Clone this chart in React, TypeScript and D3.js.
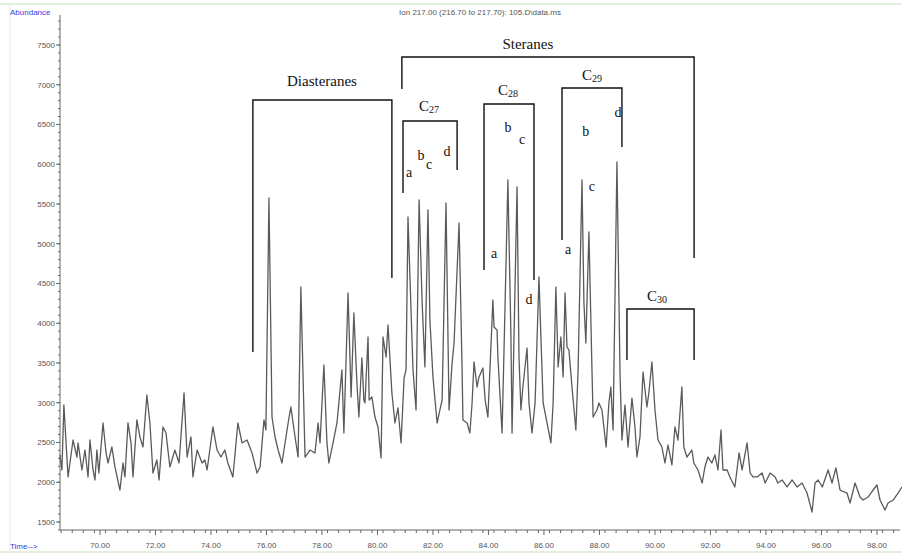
import React from "react";
import * as d3 from "d3";

const W = 902;
const H = 554;

const titleText = "Ion 217.00 (216.70 to 217.70): 105.D\\data.ms";
const yTickValues = [1500, 2000, 2500, 3000, 3500, 4000, 4500, 5000, 5500, 6000, 6500, 7000, 7500];
const xTickValues = [70, 72, 74, 76, 78, 80, 82, 84, 86, 88, 90, 92, 94, 96, 98];

// [retention time (min), abundance]
const traceEarly: [number, number][] = [
  [68.56, 2343], [68.63, 2154], [68.7, 2972], [68.85, 2066], [69.03, 2531], [69.17, 2317], [69.21, 2494],
  [69.35, 2154], [69.46, 2405], [69.57, 2066], [69.64, 2531], [69.75, 2154], [69.82, 2028], [69.89, 2405],
  [69.96, 2116], [70.11, 2745], [70.22, 2368], [70.29, 2242], [70.43, 2443], [70.54, 2192], [70.72, 1902],
  [70.83, 2242], [70.9, 2066], [71.01, 2745], [71.12, 2494], [71.19, 2066], [71.33, 2783], [71.44, 2569],
  [71.55, 2443], [71.69, 3097], [71.8, 2745], [71.91, 2116], [72.05, 2280], [72.13, 2028], [72.27, 2695],
  [72.38, 2619], [72.52, 2192], [72.7, 2405], [72.85, 2242], [73.03, 3122], [73.14, 2317], [73.28, 2569],
  [73.35, 2066], [73.5, 2405], [73.68, 2242], [73.78, 2280], [73.86, 2154], [74.07, 2695], [74.22, 2405],
  [74.36, 2317], [74.5, 2405], [74.61, 2242], [74.79, 2066], [74.97, 2745], [75.12, 2494], [75.3, 2531],
  [75.48, 2368], [75.66, 2116], [75.77, 2192], [75.91, 2783], [75.98, 2657], [76.09, 5575], [76.2, 2820],
  [76.31, 2569], [76.42, 2405], [76.56, 2242], [76.78, 2745], [76.88, 2946], [77.03, 2569], [77.14, 2317],
  [77.24, 4456], [77.39, 2317], [77.57, 2405], [77.75, 2368], [77.86, 2745], [77.93, 2494], [78.07, 3475],
  [78.18, 2494], [78.25, 2242],
];

const traceMid: [number, number][] = [
  [78.4, 2494], [78.54, 2745], [78.72, 3412], [78.79, 2619], [78.94, 4380], [79.05, 3072], [79.15, 4129],
  [79.26, 3248], [79.33, 2820], [79.44, 3563], [79.51, 3034], [79.55, 2997], [79.66, 3827], [79.7, 3034],
  [79.8, 3072], [79.91, 2820], [80.02, 2695], [80.13, 2305], [80.2, 3827], [80.31, 3575], [80.38, 3978],
  [80.52, 3122], [80.63, 2745], [80.74, 2934], [80.85, 2494], [80.96, 3311], [81.03, 3412], [81.1, 5337],
  [81.28, 3412], [81.39, 2909], [81.5, 5550], [81.61, 4255], [81.71, 3450], [81.82, 5424], [81.89, 4040],
  [82.0, 3324], [82.15, 2745], [82.25, 2909], [82.33, 3034], [82.47, 5512], [82.58, 2909], [82.69, 3500],
  [82.76, 3751], [82.94, 5261], [83.05, 3412], [83.08, 2783], [83.23, 2745], [83.33, 2619], [83.41, 2997],
  [83.48, 3512], [83.59, 3198], [83.66, 3324], [83.8, 3437], [83.88, 3034], [83.98, 2820], [84.16, 4292],
  [84.2, 3953], [84.31, 3915], [84.34, 3575], [84.49, 2619], [84.6, 4255], [84.7, 5802], [84.81, 3827],
  [84.85, 2619], [85.03, 5714], [85.1, 3575], [85.17, 2909], [85.24, 3198], [85.39, 3688], [85.46, 2997],
  [85.57, 2619], [85.68, 2997], [85.82, 4582], [85.89, 3827], [85.97, 2997], [86.11, 2745], [86.25, 2494],
  [86.33, 2997], [86.43, 4456], [86.51, 3450], [86.61, 3827], [86.69, 3324], [86.76, 4380], [86.83, 3701],
  [86.9, 3663], [87.01, 3198], [87.15, 2657], [87.23, 3412], [87.37, 5802], [87.44, 4255], [87.51, 3751],
  [87.62, 5148], [87.73, 3412], [87.77, 2820], [87.91, 2909], [87.98, 2997], [88.09, 2909], [88.24, 2443],
];

const traceLate: [number, number][] = [
  [88.34, 2997], [88.41, 3198], [88.49, 2657], [88.63, 6028], [88.74, 3374], [88.81, 2531], [88.92, 2972],
  [89.03, 2443], [89.17, 3059], [89.28, 2695], [89.35, 2317], [89.46, 2569], [89.57, 3387], [89.71, 2946],
  [89.78, 3122], [89.89, 3512], [90.0, 2909], [90.11, 2531], [90.25, 2443], [90.36, 2242], [90.47, 2468],
  [90.61, 2217], [90.72, 2695], [90.83, 2531], [90.97, 3198], [91.04, 2443], [91.15, 2317], [91.33, 2405],
  [91.4, 2242], [91.55, 2154], [91.7, 1990], [91.8, 2192], [91.91, 2317], [92.05, 2242], [92.16, 2343],
  [92.27, 2154], [92.38, 2657], [92.45, 2154], [92.6, 2154], [92.7, 2066], [92.88, 1940], [93.03, 2368],
  [93.14, 2154], [93.32, 2494], [93.43, 2116], [93.53, 2066], [93.68, 2066], [93.86, 2116], [93.97, 1990],
  [94.15, 2116], [94.33, 2066], [94.43, 1990], [94.58, 2028], [94.76, 1940], [94.94, 2028], [95.12, 1940],
  [95.3, 1990], [95.48, 1864], [95.66, 1625], [95.77, 1990], [95.88, 2028], [96.03, 1940], [96.24, 2154],
  [96.38, 1990], [96.52, 2179], [96.67, 1902], [96.92, 1864], [97.03, 1739], [97.21, 1990], [97.39, 1814],
  [97.5, 1776], [97.68, 1814], [97.86, 1902], [98.0, 1965], [98.11, 1776], [98.29, 1651], [98.4, 1739],
  [98.58, 1776], [98.76, 1864], [98.9, 1940],
];

// brackets
const bracketNames = ["Diasteranes", "Steranes", "C27", "C28", "C29", "C30"];
const bracketStart = [75.51, 80.88, 80.92, 83.84, 86.65, 88.99];
const bracketEnd = [80.52, 91.41, 82.87, 85.64, 88.81, 91.41];
const bracketTop = [6808, 7349, 6544, 6758, 6959, 4179];
const bracketLeftBottom = [3638, 6947, 5638, 4670, 5047, 3538];
const bracketRightBottom = [4569, 4821, 5928, 4544, 6217, 3538];

// group labels: [main, subscript, t(center), abundance(baseline)]
const groupLabels: [string, string, number, number][] = [
  ["Diasteranes", "", 78.0, 6984],
  ["Steranes", "", 85.42, 7450],
  ["C", "27", 81.86, 6670],
  ["C", "28", 84.7, 6871],
  ["C", "29", 87.73, 7060],
  ["C", "30", 90.07, 4280],
];

// isomer letters: [letter, t, abundance]
const isomerLetters: [string, number, number][] = [
  ["a", 81.14, 5902], ["b", 81.57, 6116], ["c", 81.86, 6003], ["d", 82.51, 6167],
  ["b", 84.7, 6468], ["c", 85.21, 6318], ["a", 84.2, 4884], ["d", 85.46, 4305],
  ["b", 87.51, 6418], ["c", 87.73, 5726], ["d", 88.67, 6657], ["a", 86.87, 4934],
];

export default function App() {
  const x = d3.scaleLinear().domain([68.56, 98.83]).range([60, 900]);
  const y = d3.scaleLinear().domain([1399, 7877]).range([530, 15]);
  const trace = [...traceEarly, ...traceMid, ...traceLate];
  const line = d3
    .line<[number, number]>()
    .x((d) => x(d[0]))
    .y((d) => y(d[1]));

  const yMinor = d3.range(1400, 7801, 100);
  const xMinor = d3.range(68.6, 98.81, 0.4);

  const axisColor = "#666";
  const tickFont = "'Liberation Sans', Arial, sans-serif";
  const serif = "'Liberation Serif', 'Times New Roman', serif";

  return (
    <svg
      width={W}
      height={H}
      style={{ position: "absolute", left: 0, top: 0, background: "#fff" }}
    >
      <rect x={0} y={0} width={W} height={H} fill="#fff" />
      <line x1={0} x2={W} y1={4} y2={4} stroke="#e2efdc" strokeWidth={2} />
      <line x1={10} x2={10} y1={4} y2={552} stroke="#e6efe2" strokeWidth={1} />
      <line x1={0} x2={W} y1={552} y2={552} stroke="#e2efdc" strokeWidth={2} />

      <text x={10} y={15} fontFamily={tickFont} fontSize={8} fill="#3a3ae0">
        Abundance
      </text>
      <text x={10} y={549} fontFamily={tickFont} fontSize={8} fill="#3a3ae0">
        Time--&gt;
      </text>
      <text x={480} y={15} fontFamily={tickFont} fontSize={8} fill="#555" textAnchor="middle">
        {titleText}
      </text>

      {/* y axis */}
      <line x1={60} x2={60} y1={15} y2={530} stroke={axisColor} strokeWidth={1} />
      {yMinor.map((v) => (
        <line key={"ym" + v} x1={58} x2={60} y1={y(v)} y2={y(v)} stroke={axisColor} strokeWidth={1} />
      ))}
      {yTickValues.map((v) => (
        <g key={"yt" + v}>
          <line x1={56} x2={60} y1={y(v)} y2={y(v)} stroke={axisColor} strokeWidth={1} />
          <text
            x={55}
            y={y(v)}
            dy="0.35em"
            textAnchor="end"
            fontFamily={tickFont}
            fontSize={8}
            fill="#555"
          >
            {v}
          </text>
        </g>
      ))}

      {/* x axis */}
      <line x1={60} x2={900} y1={530} y2={530} stroke={axisColor} strokeWidth={1} />
      {xMinor.map((t, i) => (
        <line key={"xm" + i} x1={x(t)} x2={x(t)} y1={530} y2={533} stroke={axisColor} strokeWidth={1} />
      ))}
      {xTickValues.map((t) => (
        <g key={"xt" + t}>
          <line x1={x(t)} x2={x(t)} y1={530} y2={535} stroke={axisColor} strokeWidth={1} />
          <text
            x={x(t)}
            y={548}
            textAnchor="middle"
            fontFamily={tickFont}
            fontSize={8}
            fill="#555"
          >
            {t.toFixed(2)}
          </text>
        </g>
      ))}

      {/* chromatogram */}
      <path d={line(trace) || ""} fill="none" stroke="#5a5a5a" strokeWidth={1.3} strokeLinejoin="round" />

      {/* brackets */}
      {bracketNames.map((n, i) => (
        <path
          key={"br" + n}
          d={`M${x(bracketStart[i])},${y(bracketLeftBottom[i])}V${y(bracketTop[i])}H${x(
            bracketEnd[i]
          )}V${y(bracketRightBottom[i])}`}
          fill="none"
          stroke="#111"
          strokeWidth={1.4}
        />
      ))}

      {groupLabels.map(([main, sub, t, v], i) => (
        <text
          key={"gl" + i}
          x={x(t)}
          y={y(v)}
          textAnchor="middle"
          fontFamily={serif}
          fontSize={15}
          fill="#111"
        >
          {main}
          {sub && (
            <tspan fontSize={10} dy={2}>
              {sub}
            </tspan>
          )}
        </text>
      ))}

      {isomerLetters.map(([l, t, v], i) => (
        <text
          key={"il" + i}
          x={x(t)}
          y={y(v)}
          dy="0.35em"
          textAnchor="middle"
          fontFamily={serif}
          fontSize={14}
          fill="#111"
        >
          {l}
        </text>
      ))}
    </svg>
  );
}
